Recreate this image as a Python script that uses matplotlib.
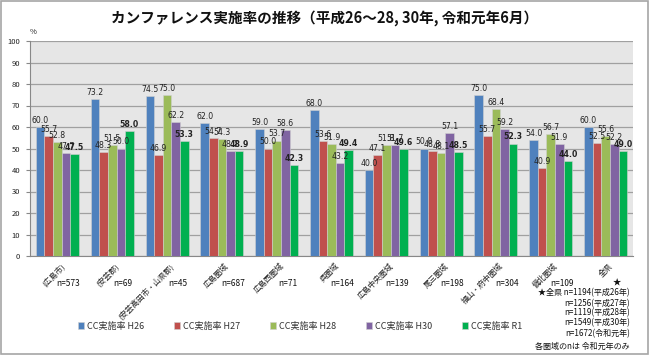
import matplotlib
matplotlib.use("Agg")
import matplotlib.pyplot as plt
import matplotlib.transforms as mtransforms
from matplotlib.patches import Rectangle
import numpy as np

plt.rcParams['font.family'] = ['Noto Sans CJK JP', 'DejaVu Sans']

categories = ["(広島市)", "(安芸郡)", "(安芸高田市・山県郡)", "広島圏域", "広島西圏域",
              "呉圏域", "広島中央圏域", "尾三圏域", "福山・府中圏域", "備北圏域", "全県"]
n_labels = ["n=573", "n=69", "n=45", "n=687", "n=71", "n=164", "n=139",
            "n=198", "n=304", "n=109", "★"]
series_names = ["CC実施率 H26", "CC実施率 H27", "CC実施率 H28", "CC実施率 H30", "CC実施率 R1"]
h26 = [60.0, 73.2, 74.5, 62.0, 59.0, 68.0, 40.0, 50.0, 75.0, 54.0, 60.0]
h27 = [55.7, 48.3, 46.9, 54.7, 50.0, 53.6, 47.1, 48.8, 55.7, 40.9, 52.5]
h28 = [52.8, 51.5, 75.0, 54.3, 53.7, 51.9, 51.8, 48.1, 68.4, 56.7, 55.6]
h30 = [47.7, 50.0, 62.2, 48.7, 58.6, 43.2, 51.7, 57.1, 59.2, 51.9, 52.2]
r1 = [47.5, 58.0, 53.3, 48.9, 42.3, 49.4, 49.6, 48.5, 52.3, 44.0, 49.0]
series = [h26, h27, h28, h30, r1]
colors = ["#4F81BD", "#C0504D", "#9BBB59", "#8064A2", "#00B050"]
note_lines = ["★全県 n=1194(平成26年)", "n=1256(平成27年)", "n=1119(平成28年)",
              "n=1549(平成30年)", "n=1672(令和元年)", "各圏域のnは 令和元年のみ"]
title = "カンファレンス実施率の推移（平成26～28, 30年, 令和元年6月）"

W, H = 650, 355
fig = plt.figure(figsize=(W / 100, H / 100), dpi=100)
fig.patch.set_facecolor("white")
fig.add_artist(Rectangle((0.002, 0.003), 0.995, 0.993, transform=fig.transFigure,
                         fill=False, edgecolor="#A6A6A6", linewidth=1.2))

ax = fig.add_axes([30 / W, 1 - 256 / H, (633 - 30) / W, (256 - 41) / H])
ax.set_facecolor("#E6E6E6")
x = np.arange(len(categories))
bw = 0.157
for j, (vals, c, name) in enumerate(zip(series, colors, series_names)):
    xs = x + (j - 2) * bw
    ax.bar(xs, vals, width=bw, color=c, edgecolor="#D0D0D0", linewidth=0.4,
           label=name, zorder=3)
    for xi, v in zip(xs, vals):
        ax.annotate(f"{v:.1f}", (xi, v), xytext=(0, 1.5), textcoords="offset points",
                    ha="center", va="bottom", fontsize=5.6,
                    fontweight="bold" if j == 4 else "normal",
                    color="#222222", family="DejaVu Sans", zorder=5)

ax.set_xlim(-0.5, len(categories) - 0.5)
ax.set_ylim(0, 100)
ax.set_yticks(np.arange(0, 101, 10))
ax.yaxis.grid(True, color="#A0A0A0", linewidth=0.9, zorder=0)
ax.set_axisbelow(True)
ax.set_xticks([])
ax.tick_params(axis="y", labelsize=5.5, length=3, color="#888888", pad=4,
               labelcolor="#222222")
for s in ["top", "right"]:
    ax.spines[s].set_visible(False)
for s in ["left", "bottom"]:
    ax.spines[s].set_color("#888888")
    ax.spines[s].set_linewidth(0.8)

trans = mtransforms.blended_transform_factory(ax.transData, fig.transFigure)
for xi, cat, nl in zip(x, categories, n_labels):
    ax.text(xi + 0.06, 1 - 262 / H, cat, transform=trans, rotation=45,
            ha="right", va="top", rotation_mode="anchor", fontsize=5.6,
            color="#222222")
    ax.text(xi + 0.2, 1 - 283 / H, nl, transform=trans, ha="center", va="center",
            fontsize=6, color="#111111", fontweight="bold" if nl == "★" else "normal")

fig.text(0.5, 1 - 18 / H, title, ha="center", va="center", fontsize=10.5,
         fontweight="bold", color="#111111")
fig.text(33 / W, 1 - 32 / H, "%", ha="center", va="center", fontsize=5.5,
         color="#222222")

note_y = [293, 304, 313, 323, 334, 346]
for line, yy in zip(note_lines, note_y):
    fig.text(630 / W, 1 - yy / H, line, ha="right", va="center", fontsize=5.8,
             color="#111111")

handles, labels = ax.get_legend_handles_labels()
fig.legend(handles, labels, loc="center", bbox_to_anchor=(300 / W, 1 - 326 / H),
           ncol=5, frameon=False, fontsize=6.5, handlelength=0.7, handleheight=0.7,
           handletextpad=0.3, columnspacing=3.3, labelcolor="#333333")

fig.savefig("out.png", dpi=100, facecolor="white")
